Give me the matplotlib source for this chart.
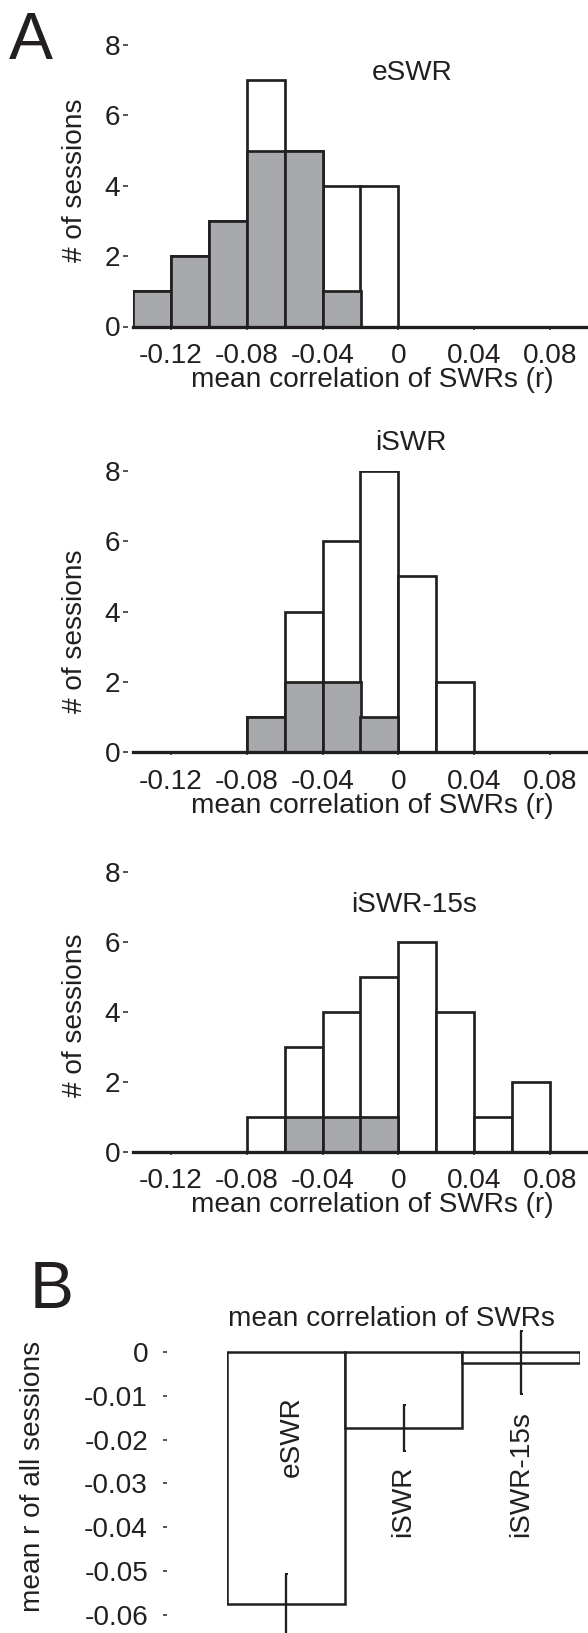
import matplotlib.pyplot as plt

plt.rcParams['font.family'] = ['Liberation Sans', 'DejaVu Sans']
plt.rcParams['axes.unicode_minus'] = False

# histogram bins (left edges, width 0.02)
bin_left = [-0.14, -0.12, -0.10, -0.08, -0.06, -0.04, -0.02, 0.0, 0.02, 0.04, 0.06, 0.08]
eswr_all = [1, 2, 3, 7, 5, 4, 4, 0, 0, 0, 0, 0]
eswr_sig = [1, 2, 3, 5, 5, 1, 0, 0, 0, 0, 0, 0]
iswr_all = [0, 0, 0, 1, 4, 6, 8, 5, 2, 0, 0, 0]
iswr_sig = [0, 0, 0, 1, 2, 2, 1, 0, 0, 0, 0, 0]
iswr15_all = [0, 0, 0, 1, 3, 4, 5, 6, 4, 1, 2, 0]
iswr15_sig = [0, 0, 0, 0, 1, 1, 1, 0, 0, 0, 0, 0]
hist_titles = ['eSWR', 'iSWR', 'iSWR-15s']
xtick_vals = [-0.12, -0.08, -0.04, 0, 0.04, 0.08]
xtick_labels = ['-0.12', '-0.08', '-0.04', '0', '0.04', '0.08']

# panel B
groups = ['eSWR', 'iSWR', 'iSWR-15s']
mean_r = [-0.0575, -0.0174, -0.0024]
sem_r = [0.0068, 0.0053, 0.0072]
ytick_vals_b = [0, -0.01, -0.02, -0.03, -0.04, -0.05, -0.06]
ytick_labels_b = ['0', '-0.01', '-0.02', '-0.03', '-0.04', '-0.05', '-0.06']

W, H = 588, 1633
ink = '#231f20'
gray = '#a7a9ac'
fs = 28

fig = plt.figure(figsize=(W / 72, H / 72), dpi=72)


def box(left, top, right, bottom):
    return fig.add_axes([left / W, 1 - bottom / H, (right - left) / W, (bottom - top) / H])


panels = [
    (45, 326.5, eswr_all, eswr_sig, 7.0, 180),
    (471, 752, iswr_all, iswr_sig, 8.59, 631),
    (872, 1152, iswr15_all, iswr15_sig, 6.86, 1015),
]
title_x = [0.007, 0.0066, 0.0085]

for i, (top, bottom, counts, sig, ty, ylab_y) in enumerate(panels):
    ax = box(133, top, 588, bottom)
    ax.bar(bin_left, counts, width=0.02, align='edge', color='white',
           edgecolor=ink, linewidth=2.7, zorder=2)
    ax.bar(bin_left, sig, width=0.02, align='edge', color=gray,
           edgecolor=ink, linewidth=2.7, zorder=2)
    ax.set_xlim(-0.14, 0.10)
    ax.set_ylim(0, 8)
    for s in ['top', 'right', 'left']:
        ax.spines[s].set_visible(False)
    ax.spines['left'].set_position(('outward', 5))
    ax.spines['bottom'].set_linewidth(3.3)
    ax.spines['bottom'].set_color(ink)
    ax.spines['bottom'].set_zorder(3)
    ax.set_yticks([0, 2, 4, 6, 8])
    ax.set_yticklabels(['0', '2', '4', '6', '8'])
    ax.set_xticks(xtick_vals)
    ax.set_xticklabels(xtick_labels)
    ax.tick_params(axis='y', length=5, width=1.5, pad=3, labelsize=fs, colors=ink)
    ax.tick_params(axis='x', length=3, width=1.5, pad=13.5, labelsize=fs, colors=ink)
    ax.set_xlabel('mean correlation of SWRs (r)', fontsize=fs, color=ink)
    ax.xaxis.set_label_coords((372.5 - 133) / 455, -40.5 / (bottom - top))
    ax.patch.set_visible(False)
    ax.text(title_x[i], ty, hist_titles[i], fontsize=fs, color=ink,
            ha='center', va='baseline', clip_on=False)
    fig.text(75 / W, 1 - ylab_y / H, '# of sessions', rotation=90, fontsize=fs,
             color=ink, ha='center', va='center')

fig.text(9 / W, 1 - 59 / H, 'A', fontsize=66, color=ink, ha='left', va='baseline')

# panel B
axb = box(227, 1352 - 0.8 * 43.8, 580, 1352 + 6.4 * 43.8)
xpos = list(range(len(groups)))
axb.bar(xpos, mean_r, width=1, color='white', edgecolor=ink, linewidth=2.5, zorder=2)
axb.errorbar(xpos, mean_r, yerr=sem_r, fmt='none', ecolor=ink, elinewidth=2.3,
             capsize=1.5, capthick=2, clip_on=False, zorder=3)
axb.set_xlim(-0.5, 2.5)
axb.set_ylim(-0.064, 0.008)
for s in ['top', 'right', 'bottom', 'left']:
    axb.spines[s].set_visible(False)
axb.spines['left'].set_position(('outward', 60))
axb.set_xticks([])
axb.set_yticks(ytick_vals_b)
axb.set_yticklabels(ytick_labels_b)
axb.tick_params(axis='y', length=4, width=1.5, pad=15, labelsize=fs, colors=ink)
axb.patch.set_visible(False)

label_x = [0.05, 1.0, 2.0]
label_y = [-0.0285, -0.0422, -0.0422]
for gx, gy, g in zip(label_x, label_y, groups):
    axb.text(gx, gy, g, rotation=90, fontsize=fs, color=ink, ha='center', va='bottom')

axb.text((391 - 227) / 117.67 - 0.5, (1352 - 1326) / 4380, 'mean correlation of SWRs',
         fontsize=fs, color=ink, ha='center', va='baseline', clip_on=False)
fig.text(33 / W, 1 - 1476 / H, 'mean r of all sessions', rotation=90, fontsize=fs,
         color=ink, ha='center', va='center')
fig.text(30 / W, 1 - 1308 / H, 'B', fontsize=66, color=ink, ha='left', va='baseline')

plt.savefig('out.png', dpi=72)
